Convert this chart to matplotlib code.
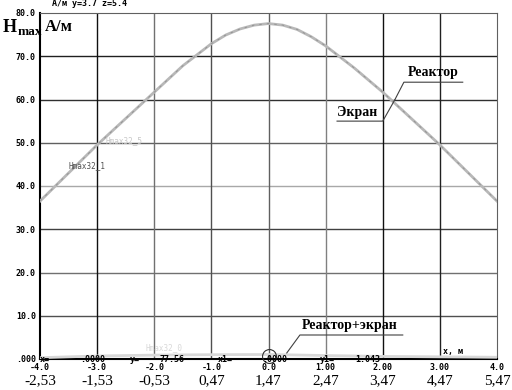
import matplotlib.pyplot as plt
import matplotlib.transforms as mtransforms

# main curve (Реактор / Экран) and reactor+screen curve
x = [-4.0, -3.5, -3.0, -2.5, -2.0, -1.5, -1.0, -0.75, -0.5, -0.25, 0.0,
     0.25, 0.5, 0.75, 1.0, 1.5, 2.0, 2.5, 3.0, 3.5, 4.0]
h_reactor = [36.5, 43.0, 49.5, 55.6, 61.7, 67.8, 72.9, 74.9, 76.3, 77.2, 77.56,
             77.2, 76.2, 74.5, 72.4, 67.3, 61.7, 55.6, 49.5, 43.0, 36.5]
x2 = [-4.0, -3.0, -2.0, -1.0, 0.0, 1.0, 2.0, 3.0, 4.0]
h_both = [0.3, 0.7, 0.9, 1.0, 1.043, 0.8, 0.6, 0.5, 0.4]

yticks = [0, 10, 20, 30, 40, 50, 60, 70, 80]
ytick_labels = ['.000', '10.0', '20.0', '30.0', '40.0', '50.0', '60.0', '70.0', '80.0']
xticks = [-4, -3, -2, -1, 0, 1, 2, 3, 4]
xtick_labels = ['-4.0', '-3.0', '-2.0', '-1.0', '0.0', '1.00', '2.00', '3.00', '4.0']
x2_labels = ['-2,53', '-1,53', '-0,53', '0,47', '1,47', '2,47', '3,47', '4,47', '5,47']

W, H = 512, 390
fig = plt.figure(figsize=(W / 100, H / 100), dpi=100)
ax = fig.add_axes([40 / W, 1 - 359 / H, 457 / W, 346 / H])

def px(xp, yp):
    return xp / W, 1 - yp / H

mono = dict(family='DejaVu Sans Mono', weight='bold', fontsize=6)
serif = dict(family='Liberation Serif', weight='bold')

# grid lines with the mixed greys of the original
hgrid = {10: '#505050', 20: '#707070', 30: '#404040', 40: '#a8a8a8', 50: '#606060', 60: '#303030', 70: '#202020'}
vgrid = {-3: '#101010', -2: '#707070', -1: '#505050', 0: '#606060', 1: '#808080', 2: '#101010', 3: '#202020'}
for v, c in hgrid.items():
    ax.axhline(v, color=c, lw=1.0, zorder=1)
for v, c in vgrid.items():
    ax.axvline(v, color=c, lw=1.0, zorder=1)

ax.plot(x, h_reactor, color='#b8b8b8', lw=2.0, zorder=3)
ax.plot(x, h_reactor, color='#909090', lw=0.6, ls=(0, (3, 6)), zorder=3)
ax.plot(x2, h_both, color='#d8d8d8', lw=2.0, zorder=3)

ax.set_xlim(-4, 4)
ax.set_ylim(0, 80)
ax.set_yticks(yticks)
ax.set_yticklabels(ytick_labels, **mono)
ax.set_xticks(xticks)
ax.set_xticklabels(xtick_labels, **mono)
ax.tick_params(length=0, pad=3)
for s in ['top', 'right']:
    ax.spines[s].set_color('#606060')
ax.spines['left'].set_linewidth(1.5)
ax.spines['bottom'].set_linewidth(1.5)

# second x scale row
trans = mtransforms.blended_transform_factory(ax.transData, ax.transAxes)
for xv, lab in zip(xticks, x2_labels):
    ax.text(xv, -0.062, lab, transform=trans, ha='center', va='center',
            family='Liberation Serif', fontsize=11, clip_on=False)

# cursor marker
ax.plot([0], [0.8], marker='o', ms=10, mfc='none', mec='#303030', mew=0.8, zorder=4, clip_on=False)

# labels of curves
ax.text(-3.5, 44.2, 'Hmax32_1', family='DejaVu Sans Mono', fontsize=5.5, color='#505050', zorder=4)
ax.text(-2.85, 49.8, 'Hmax32_5', family='DejaVu Sans Mono', fontsize=5.5, color='#c8c8c8', zorder=4)
ax.text(-2.15, 2.0, 'Hmax32_0', family='DejaVu Sans Mono', fontsize=5.5, color='#d8d8d8', zorder=4)
ax.text(3.05, 1.2, 'x, м', **mono)

# names with leader lines
lc = dict(color='#404040', lw=0.8, zorder=4)
ax.text(2.44, 64.7, 'Реактор', fontsize=10, ha='left', va='bottom', **serif)
ax.plot([3.40, 2.37, 2.21], [64.0, 64.0, 59.9], **lc)
ax.text(1.2, 55.6, 'Экран', fontsize=10, ha='left', va='bottom', **serif)
ax.plot([1.2, 2.0, 2.21], [55.0, 55.0, 59.9], **lc)
ax.text(0.58, 6.2, 'Реактор+экран', fontsize=10, ha='left', va='bottom', **serif)
ax.plot([2.35, 0.55, 0.32], [5.55, 5.55, 1.4], **lc)

# axis titles and header
fig.text(*px(3, 27), 'H', fontsize=13, va='center', ha='left', **serif)
fig.text(*px(18, 32), 'max', fontsize=9.5, va='center', ha='left', **serif)
fig.text(*px(45, 27), 'А/м', fontsize=12, va='center', ha='left', **serif)
fig.text(*px(52, 3), 'A/м y=3.7 z=5.4', va='center', ha='left', **mono)

# status line
for xp, s in [(40, 'x='), (80, '.0000'), (130, 'y='), (160, '77.56'), (218, 'x1='),
              (262, '.0000'), (320, 'y1='), (355, '1.043')]:
    fig.text(*px(xp, 360), s, va='center', ha='left', **mono)

fig.savefig('out.png', dpi=100, facecolor='white')
